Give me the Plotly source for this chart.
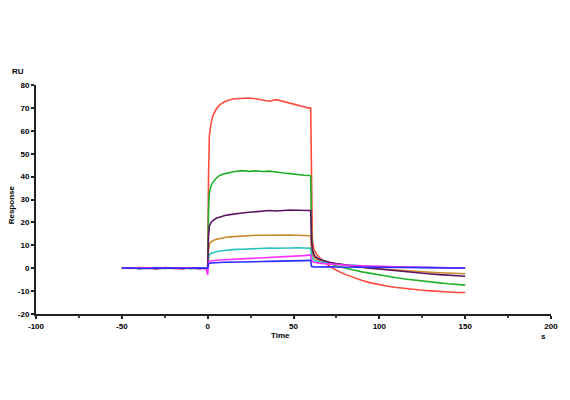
import plotly.graph_objects as go

time_s = [-50, -45, -40, -35, -30, -25, -20, -15, -10, -5, -1, 0,
          0.5, 1, 2, 3, 5, 7, 10, 13, 16, 20, 24, 28, 32, 36, 40, 44, 48, 52, 56, 59.5,
          60, 60.5, 61, 62, 63, 65, 68, 71, 75, 80, 85, 90, 95, 100, 105, 110, 115,
          120, 125, 130, 135, 140, 145, 150]

red = [0.2, -0.1, 0.3, 0.0, -0.2, 0.3, 0.1, -0.3, 0.2, 0.0, 0.1, 0.0,
       40, 58, 63.5, 66.5, 69.5, 71.3, 72.8, 73.6, 74.0, 74.3, 74.3, 74.0, 73.6, 72.9, 73.6, 72.8, 71.8, 71.2, 70.4, 69.8,
       70.3, 25, 12, 8, 6.5, 4.8, 2.6, 0.9, -0.9, -2.7, -4.2, -5.4, -6.4, -7.2, -7.9, -8.4, -8.9,
       -9.3, -9.6, -9.9, -10.2, -10.4, -10.6, -10.6]

green = [0.1, 0.2, -0.2, 0.1, 0.3, -0.1, 0.0, 0.2, -0.2, 0.1, 0.0, 0.0,
         25, 33, 36, 37.5, 39.3, 40.5, 41.3, 41.8, 42.2, 42.6, 42.3, 42.5, 42.2, 42.4, 41.9, 41.6, 41.3, 40.9, 40.6, 40.5,
         40.3, 14, 8, 5.8, 4.8, 3.8, 2.8, 2.0, 1.0, 0.0, -0.8, -1.6, -2.3, -3.0, -3.6, -4.2, -4.7,
         -5.2, -5.6, -6.0, -6.4, -6.8, -7.1, -7.4]

purple = [0.0, 0.2, -0.1, 0.1, -0.2, 0.0, 0.2, -0.1, 0.1, -0.2, 0.0, 0.0,
          14, 18.5, 20, 20.8, 21.8, 22.4, 23.0, 23.4, 23.8, 24.1, 24.4, 24.6, 24.8, 25.2, 25.0, 25.3, 25.4, 25.3, 25.4, 25.3,
          25.2, 12, 8, 5.6, 4.8, 3.9, 3.1, 2.6, 2.0, 1.4, 0.9, 0.4, 0.0, -0.4, -0.8, -1.2, -1.6,
          -1.9, -2.2, -2.5, -2.8, -3.1, -3.3, -3.5]

orange = [-0.1, 0.1, 0.2, -0.1, 0.0, 0.2, -0.2, 0.1, 0.0, 0.2, -0.1, 0.0,
          8, 10.5, 11.5, 12.0, 12.6, 13.0, 13.4, 13.7, 13.9, 14.1, 14.3, 14.4, 14.4, 14.5, 14.5, 14.4, 14.5, 14.4, 14.3, 14.3,
          14.2, 8, 6, 4.8, 4.2, 3.5, 2.8, 2.4, 1.8, 1.2, 0.7, 0.3, 0.0, -0.3, -0.6, -0.9, -1.2,
          -1.4, -1.6, -1.8, -2.0, -2.2, -2.3, -2.4]

cyan = [0.1, -0.1, 0.0, 0.2, 0.1, -0.2, 0.0, 0.1, -0.1, 0.0, 0.1, 0.0,
        4.5, 6.0, 6.5, 6.8, 7.2, 7.5, 7.8, 8.0, 8.2, 8.3, 8.5, 8.6, 8.7, 8.8, 8.7, 8.9, 8.8, 8.9, 8.8, 8.7,
        8.7, 5.5, 4.3, 3.6, 3.2, 2.8, 2.4, 2.1, 1.8, 1.5, 1.2, 1.0, 0.8, 0.7, 0.6, 0.5, 0.4,
        0.3, 0.3, 0.2, 0.1, 0.1, 0.0, 0.0]

magenta = [0.0, 0.1, -0.1, 0.2, 0.0, 0.1, -0.1, 0.0, 0.2, -0.1, 0.0, -3.0,
           2.5, 3.0, 3.2, 3.3, 3.5, 3.6, 3.7, 3.8, 3.9, 4.0, 4.2, 4.3, 4.5, 4.6, 4.8, 5.0, 5.1, 5.3, 5.5, 5.7,
           5.7, 3.5, 2.9, 2.6, 2.4, 2.2, 2.0, 1.8, 1.6, 1.4, 1.2, 1.0, 0.9, 0.8, 0.7, 0.6, 0.5,
           0.5, 0.4, 0.3, 0.3, 0.2, 0.2, 0.1]

blue = [0.1, 0.0, 0.1, -0.1, 0.1, 0.0, 0.1, -0.1, 0.0, 0.1, 0.0, 0.0,
        1.8, 2.2, 2.3, 2.4, 2.5, 2.5, 2.6, 2.6, 2.7, 2.7, 2.8, 2.8, 2.9, 3.0, 3.0, 3.1, 3.1, 3.2, 3.3, 3.4,
        3.4, 0.8, 0.6, 0.5, 0.5, 0.6, 0.6, 0.6, 0.5, 0.5, 0.5, 0.5, 0.4, 0.4, 0.4, 0.3, 0.3,
        0.3, 0.2, 0.2, 0.2, 0.1, 0.1, 0.1]

series = [
    ("red", red, "#ff4a3d"),
    ("green", green, "#22b02a"),
    ("orange", orange, "#c98a2a"),
    ("cyan", cyan, "#27c2c0"),
    ("purple", purple, "#5e1462"),
    ("magenta", magenta, "#ff30ff"),
    ("blue", blue, "#2a2aff"),
]

x_ticks = [-100, -50, 0, 50, 100, 150, 200]
y_ticks = [-20, -10, 0, 10, 20, 30, 40, 50, 60, 70, 80]

fig = go.Figure()
for name, vals, col in series:
    fig.add_trace(go.Scatter(x=time_s, y=vals, mode="lines", name=name,
                             line=dict(color=col, width=1.6)))

tick_font = dict(family="Liberation Sans, Arial, sans-serif", size=8, color="black", weight="bold")
lab_font = dict(family="Liberation Sans, Arial, sans-serif", size=8, color="black", weight="bold")

fig.update_layout(
    width=570, height=400,
    margin=dict(l=36, r=14, t=85, b=86),
    paper_bgcolor="white", plot_bgcolor="white",
    showlegend=False,
    xaxis=dict(range=[-100, 200], tickvals=x_ticks, ticktext=[str(v) for v in x_ticks],
               showgrid=False, zeroline=False, showline=True, linecolor="#222",
               linewidth=2, ticks="outside", ticklen=3, tickwidth=1.5, tickcolor="#222",
               tickfont=tick_font,
               minor=dict(dtick=25, tick0=0, ticks="outside", ticklen=2, tickcolor="#444", showgrid=False)),
    yaxis=dict(range=[-20, 80], tickvals=y_ticks, ticktext=[str(v) for v in y_ticks],
               showgrid=False, zeroline=False, showline=True, linecolor="#222",
               linewidth=2, ticks="outside", ticklen=3, tickwidth=1.5, tickcolor="#222",
               tickfont=tick_font),
    annotations=[
        dict(text="RU", x=-0.035, y=1.057, xref="paper", yref="paper", showarrow=False,
             xanchor="center", yanchor="middle", font=lab_font),
        dict(text="Response", x=-0.046, y=0.476, xref="paper", yref="paper", showarrow=False,
             textangle=-90, xanchor="center", yanchor="middle", font=lab_font),
        dict(text="Time", x=0.475, y=-0.096, xref="paper", yref="paper", showarrow=False,
             xanchor="center", yanchor="middle", font=lab_font),
        dict(text="s", x=0.985, y=-0.10, xref="paper", yref="paper", showarrow=False,
             xanchor="center", yanchor="middle", font=lab_font),
    ],
)

fig.write_html("out.html")
